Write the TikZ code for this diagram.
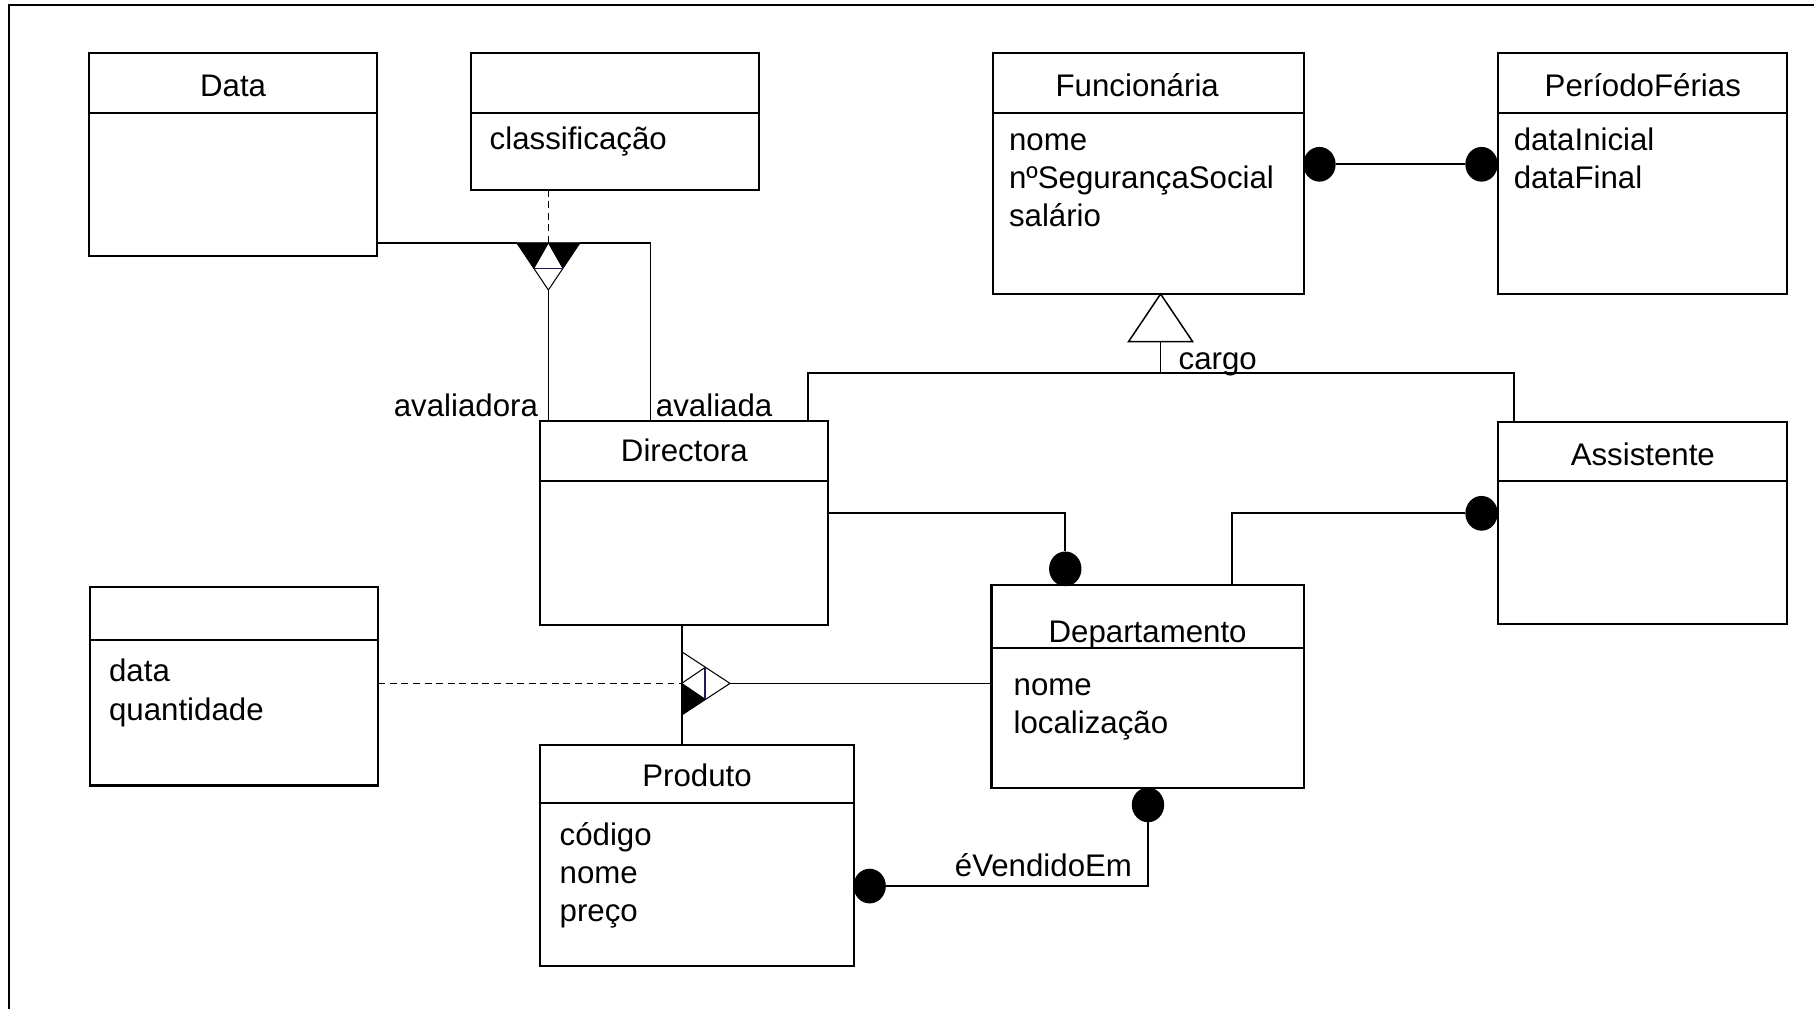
\documentclass[tikz,border=0pt]{standalone}
\usepackage{fontspec}
\setmainfont{Liberation Sans}
\usetikzlibrary{shapes.geometric,calc}
\definecolor{divline}{RGB}{30,30,90}
\begin{document}
\begin{tikzpicture}[x=1pt,y=-1pt,
  every node/.style={inner sep=0pt,outer sep=0pt},
  umlbox/.style={draw,line width=1.8pt,rectangle,fill=white},
  conn/.style={line width=1.5pt},
  dashconn/.style={line width=1.4pt,dash pattern=on 6pt off 4pt},
  lbl/.style={font=\fontsize{27}{33}\selectfont},
  dot/.style={ellipse,fill=black,minimum width=28pt,minimum height=30pt},
  sepline/.style={line width=1.8pt}]
\useasboundingbox (0,0) rectangle (1568,872.2);
% frame
\coordinate (fTL) at (8,4.5);
\draw[line width=1.5pt] (fTL|-0,872.2) -- (fTL) -- (1568,4.5);

% boxes
\node[umlbox,minimum width=249pt,minimum height=175pt] (data) at (201.5,133.5) {};
\node[umlbox,minimum width=249pt,minimum height=118pt] (class) at (531.5,105) {};
\node[umlbox,minimum width=269pt,minimum height=208pt] (func) at (992.5,150) {};
\node[umlbox,minimum width=250pt,minimum height=208pt] (per) at (1420,150) {};
\node[umlbox,minimum width=249pt,minimum height=176pt] (dir) at (591.5,452) {};
\node[umlbox,minimum width=250pt,minimum height=174pt] (assi) at (1420,452) {};
\node[umlbox,minimum width=270pt,minimum height=175pt] (dept) at (992,593.5) {};
\node[umlbox,minimum width=249pt,minimum height=172pt] (assoc) at (202.5,593) {};
\node[umlbox,minimum width=271pt,minimum height=191pt] (prod) at (602.5,739.5) {};

% separators
\draw[sepline] (data.west|-0,97.4) -- (data.east|-0,97.4);
\draw[sepline] (class.west|-0,97.4) -- (class.east|-0,97.4);
\draw[sepline] (func.west|-0,97.4) -- (func.east|-0,97.4);
\draw[sepline] (per.west|-0,97.4) -- (per.east|-0,97.4);
\draw[sepline] (dir.west|-0,415.5) -- (dir.east|-0,415.5);
\draw[sepline] (assi.west|-0,415.5) -- (assi.east|-0,415.5);
\draw[sepline] (dept.west|-0,560) -- (dept.east|-0,560);
\draw[sepline] (assoc.west|-0,553) -- (assoc.east|-0,553);
\draw[sepline] (prod.west|-0,694.4) -- (prod.east|-0,694.4);

% titles
\node[lbl,anchor=base] (tData) at (201.5,83.6) {Data};
\node[lbl,anchor=base] (tFunc) at (983,83.6) {Funcionária};
\node[lbl,anchor=base] (tPer) at (1420,83.6) {PeríodoFérias};
\node[lbl,anchor=base] (tDir) at (591.5,399.1) {Directora};
\node[lbl,anchor=base] (tAssi) at (1420,402) {Assistente};
\node[lbl,anchor=base] (tDept) at (992,555) {Departamento};
\node[lbl,anchor=base] (tProd) at (602.5,680) {Produto};

% attributes
\node[lbl,anchor=base west] (aClass) at (423.3,128.8) {classificação};
\node[lbl,anchor=base west] (aF1) at (872.2,129.7) {nome};
\node[lbl,anchor=base west] (aF2) at (872.2,162.8) {nºSegurançaSocial};
\node[lbl,anchor=base west] (aF3) at (872.2,195.9) {salário};
\node[lbl,anchor=base west] (aP1) at (1308.5,129.7) {dataInicial};
\node[lbl,anchor=base west] (aP2) at (1308.5,162.8) {dataFinal};
\node[lbl,anchor=base west] (aD1) at (876.2,600.8) {nome};
\node[lbl,anchor=base west] (aD2) at (876.2,633.9) {localização};
\node[lbl,anchor=base west] (aA1) at (94.3,589.2) {data};
\node[lbl,anchor=base west] (aA2) at (94.3,622.4) {quantidade};
\node[lbl,anchor=base west] (aPr1) at (483.8,730.4) {código};
\node[lbl,anchor=base west] (aPr2) at (483.8,763.6) {nome};
\node[lbl,anchor=base west] (aPr3) at (483.8,796.7) {preço};

% --- reflexive association Directora (avaliadora / avaliada) with association class
\coordinate (t1) at (474,209.8);
\coordinate (t1apex) at (474,250.7);
\coordinate (avR) at (562.2,209.8);
\draw[conn] (data.east|-avR) -- (avR) -- (avR|-dir.north);
\draw[conn] (t1apex) -- (t1apex|-dir.north);
\draw[dashconn] (t1|-class.south) -- (t1);
\fill[white] (t1) ++(-27.4,0) -- ++(54.8,0) -- (t1apex) -- cycle;
\fill[black] ($(t1)+(-27.4,0)$) -- (t1) -- ($(t1)+(-12.6,22.1)$) -- cycle;
\fill[black] (t1) -- ($(t1)+(27.4,0)$) -- ($(t1)+(12.6,22.1)$) -- cycle;
\draw[line width=0.9pt] ($(t1)+(-27.4,0)$) -- (t1apex) -- ($(t1)+(27.4,0)$);
\draw[line width=0.9pt] ($(t1)+(-12.6,22.1)$) -- (t1) -- ($(t1)+(12.6,22.1)$);
\draw[line width=1.3pt,divline] ($(t1)+(-12.6,22.1)$) -- ($(t1)+(12.6,22.1)$);
\node[lbl,anchor=base east] (lAvr) at (465,360.2) {avaliadora};
\node[lbl,anchor=base west] (lAvd) at (567,360.2) {avaliada};

% --- generalisation cargo
\coordinate (gen) at (1003.2,254.1);
\coordinate (genb) at (1003.2,295.3);
\coordinate (gj) at (1003.2,322.2);
\coordinate (gL) at (698.7,322.2);
\coordinate (gR) at (1308.5,322.2);
\draw[conn] (genb) -- (gj);
\draw[conn] (gL|-dir.north) -- (gL) -- (gR) -- (gR|-assi.north);
\draw[line width=1.3pt,fill=white] (gen) -- ($(genb)+(27.7,0)$) -- ($(genb)+(-27.7,0)$) -- cycle;
\node[lbl,anchor=base west] (lCargo) at (1018.8,319.8) {cargo};

% --- Funcionária -- PeríodoFérias
\node[dot] (e1) at (1140.5,142) {};
\node[dot] (e2) at (1280.6,142) {};
\draw[conn] (e1.east) -- (e2.west);

% --- Directora -- Departamento
\node[dot] (e3) at (920.8,491.7) {};
\draw[conn] (dir.east|-0,443.7) -- (e3|-0,443.7) -- (e3.north);

% --- Departamento -- Assistente
\node[dot] (e4) at (1280.6,443.7) {};
\coordinate (j2) at (1065.2,443.7);
\draw[conn] (j2|-dept.north) -- (j2) -- (e4.west);

% --- Produto -- Departamento (éVendidoEm)
\node[dot] (e5) at (751.7,765.9) {};
\node[dot] (e6) at (992.3,695.7) {};
\draw[conn] (e5.east) -- (e6|-e5) -- (e6.south);
\node[lbl,anchor=base east] (lVend) at (978.5,757.2) {éVendidoEm};

% --- ternary association Directora / Produto / Departamento
\coordinate (q) at (589.2,590.7);
\coordinate (qapex) at (631,590.7);
\draw[conn] (q|-dir.south) -- (q|-prod.north);
\draw[conn] (qapex) -- (qapex-|dept.west);
\draw[dashconn] (assoc.east|-q) -- (q);
\fill[white] ($(q)+(0,-27.4)$) -- (qapex) -- ($(q)+(0,27.4)$) -- cycle;
\fill[black] (q) -- ($(q)+(20.2,13.7)$) -- ($(q)+(0,27.4)$) -- cycle;
\draw[line width=0.9pt] ($(q)+(0,-27.4)$) -- (qapex) -- ($(q)+(0,27.4)$);
\draw[line width=0.9pt] ($(q)+(20.2,-13.7)$) -- (q) -- ($(q)+(20.2,13.7)$);
\draw[line width=1.3pt,divline] ($(q)+(20.2,-13.7)$) -- ($(q)+(20.2,13.7)$);
\draw[conn] ($(q)+(0,-27.4)$) -- ($(q)+(0,27.4)$);
\end{tikzpicture}
\end{document}
